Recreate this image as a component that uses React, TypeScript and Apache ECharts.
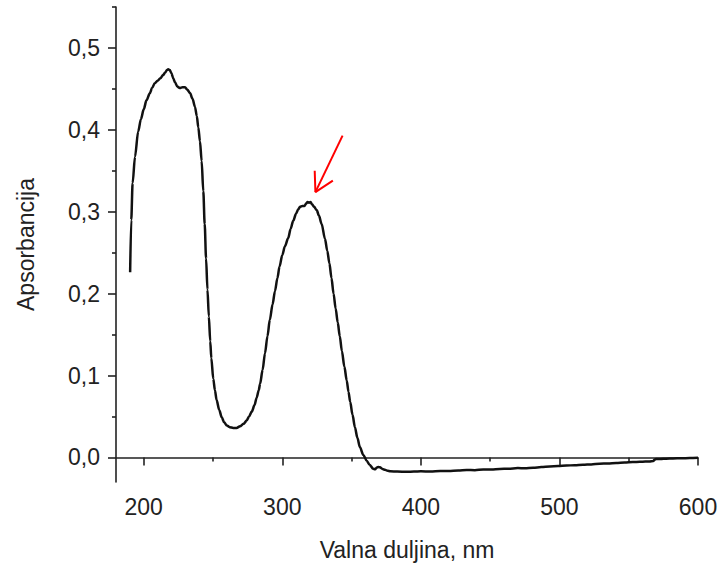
import React, { useEffect, useRef } from "react";
import * as echarts from "echarts";

// Wavelength (nm) and absorbance
const wavelength = [
  190.2, 191, 192, 193.7, 196, 198, 200, 202, 204.5, 206, 208, 210, 212, 214, 215.5, 216.8, 217.7,
  218.8, 220, 221.3, 222.6, 224.2, 226, 228, 229.8, 231.5, 233.4, 235.2, 237, 238.3, 239.4, 240.6,
  241.8, 243, 244, 245, 246, 247, 248, 248.8, 250.2, 251.4, 252.6, 254.5, 256.3, 258, 260, 262,
  264.6, 267, 269.5, 272, 274.3, 276, 278, 280, 281.5, 283, 284, 285.8, 287.5, 289.3, 291, 293,
  294.7, 296.5, 298, 300, 301.9, 304.3, 306, 307.9, 310, 311.5, 312.8, 314.5, 316, 317.2, 318.3,
  319.3, 320.4, 321.5, 323, 324.8, 326.5, 328.4, 330.8, 332.5, 334, 335.5, 337, 338.5, 340, 341.5,
  343, 344.8, 346.5, 347.8, 349, 350.7, 352.4, 354.2, 356, 358.5, 360.9, 363, 365.6, 367, 368.2,
  369.4, 370.5, 372.3, 374, 376, 378, 383, 390, 395, 400, 407, 414, 420, 427, 433, 439, 445, 451,
  457, 463, 470, 475, 481, 487, 493, 499, 505, 511, 517, 523, 529, 535, 541, 547, 553, 558, 562,
  565, 567.7, 568.8, 569.8, 573, 577, 582, 588, 594, 600,
];
const absorbance = [
  0.226, 0.29, 0.335, 0.367, 0.398, 0.413, 0.425, 0.436, 0.445, 0.451, 0.457, 0.46, 0.463, 0.467,
  0.47, 0.473, 0.474, 0.473, 0.469, 0.463, 0.458, 0.453, 0.451, 0.452, 0.452, 0.449, 0.445, 0.438,
  0.428, 0.417, 0.403, 0.386, 0.362, 0.325, 0.285, 0.243, 0.205, 0.172, 0.142, 0.121, 0.096, 0.082,
  0.07, 0.058, 0.049, 0.043, 0.039, 0.037, 0.036, 0.036, 0.038, 0.041, 0.045, 0.05, 0.056, 0.064,
  0.073, 0.082, 0.09, 0.107, 0.127, 0.148, 0.168, 0.187, 0.203, 0.219, 0.233, 0.247, 0.258, 0.268,
  0.279, 0.289, 0.298, 0.303, 0.306, 0.307, 0.307, 0.31, 0.312, 0.311, 0.312, 0.309, 0.306, 0.302,
  0.295, 0.285, 0.267, 0.252, 0.237, 0.219, 0.2, 0.182, 0.165, 0.148, 0.13, 0.111, 0.094, 0.08,
  0.068, 0.052, 0.037, 0.024, 0.0126, 0.003, -0.004, -0.009, -0.0138, -0.0145, -0.0122, -0.0118,
  -0.012, -0.014, -0.015, -0.0163, -0.017, -0.0172, -0.0175, -0.0172, -0.017, -0.0172, -0.0167,
  -0.0165, -0.016, -0.0152, -0.0155, -0.0148, -0.0146, -0.014, -0.0138, -0.013, -0.0132, -0.0126,
  -0.0118, -0.011, -0.0106, -0.0098, -0.0096, -0.009, -0.0085, -0.0077, -0.0074, -0.0068, -0.0063,
  -0.0057, -0.0054, -0.005, -0.0049, -0.0045, -0.0025, -0.002, -0.0019, -0.0015, -0.0013, -0.001,
  -0.0008, -0.0004,
];

const xTickValues = [200, 300, 400, 500, 600];
const xMinorTickValues = [250, 350, 450, 550];
const yTickValues = [0, 0.1, 0.2, 0.3, 0.4, 0.5];
const yMinorTickValues = [0.05, 0.15, 0.25, 0.35, 0.45, 0.55];

// Red annotation arrow (data coordinates)
const arrowShaft = [
  [343.5, 0.393],
  [323.9, 0.324],
];
const arrowHead = [
  [323.4, 0.35],
  [323.9, 0.324],
  [336.5, 0.338],
];

const xLabel = "Valna duljina, nm";
const yLabel = "Apsorbancija";

export default function App() {
  const ref = useRef<HTMLDivElement>(null);

  useEffect(() => {
    document.body.style.margin = "0";
    const chart = echarts.init(ref.current!, null, { renderer: "svg" });
    const font = "Liberation Sans, Arial, sans-serif";
    const axisColor = "#222";
    const fontSize = 23;
    const xMin = 180,
      xMax = 600,
      yMin = -0.03,
      yMax = 0.55;

    const spectrum = wavelength.map((w, i) => [w, absorbance[i]]);

    chart.setOption({
      animation: false,
      backgroundColor: "#fff",
      grid: { left: 116, right: 23, top: 7, bottom: 85, containLabel: false },
      xAxis: [
        {
          type: "value",
          min: xMin,
          max: xMax,
          name: xLabel,
          nameLocation: "middle",
          nameGap: 56,
          nameTextStyle: { fontFamily: font, fontSize, color: axisColor },
          axisLine: { show: true, lineStyle: { color: axisColor, width: 1.6 } },
          axisTick: {
            show: true,
            inside: false,
            length: 8,
            customValues: xTickValues,
            lineStyle: { color: axisColor, width: 1.6 },
          },
          axisLabel: {
            customValues: xTickValues,
            margin: 13,
            fontFamily: font,
            fontSize,
            color: axisColor,
          },
          splitLine: { show: false },
        },
        {
          type: "value",
          min: xMin,
          max: xMax,
          position: "bottom",
          axisLine: { show: false },
          axisTick: {
            show: true,
            length: 4,
            customValues: xMinorTickValues,
            lineStyle: { color: axisColor, width: 1.6 },
          },
          axisLabel: { show: false },
          splitLine: { show: false },
        },
      ],
      yAxis: [
        {
          type: "value",
          min: yMin,
          max: yMax,
          name: yLabel,
          nameLocation: "middle",
          nameGap: 79,
          nameRotate: 90,
          nameTextStyle: { fontFamily: font, fontSize, color: axisColor },
          axisLine: { show: true, lineStyle: { color: axisColor, width: 1.6 } },
          axisTick: {
            show: true,
            length: 8,
            customValues: yTickValues,
            lineStyle: { color: axisColor, width: 1.6 },
          },
          axisLabel: {
            customValues: yTickValues,
            margin: 16,
            fontFamily: font,
            fontSize,
            color: axisColor,
            formatter: (v: number) => v.toFixed(1).replace(".", ","),
          },
          splitLine: { show: false },
        },
        {
          type: "value",
          min: yMin,
          max: yMax,
          position: "left",
          axisLine: { show: false },
          axisTick: {
            show: true,
            length: 4,
            customValues: yMinorTickValues,
            lineStyle: { color: axisColor, width: 1.6 },
          },
          axisLabel: { show: false },
          splitLine: { show: false },
        },
      ],
      series: [
        {
          type: "line",
          data: spectrum,
          showSymbol: false,
          smooth: 0.3,
          smoothMonotone: "x",
          lineStyle: { color: "#111", width: 2.5 },
          silent: true,
        },
        {
          type: "line",
          data: arrowShaft,
          showSymbol: false,
          lineStyle: { color: "#ff0000", width: 2 },
          silent: true,
        },
        {
          type: "line",
          data: arrowHead,
          showSymbol: false,
          lineStyle: { color: "#ff0000", width: 2 },
          silent: true,
        },
      ],
    });

    return () => chart.dispose();
  }, []);

  return (
    <div
      ref={ref}
      style={{ position: "absolute", left: 0, top: 0, width: 721, height: 567 }}
    />
  );
}
